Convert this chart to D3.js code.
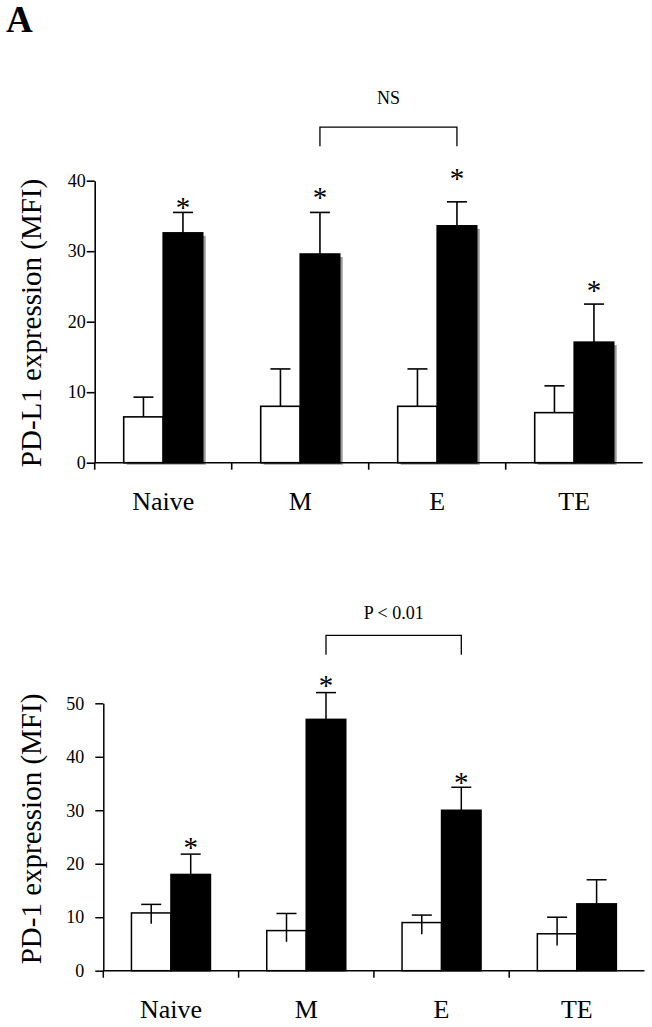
<!DOCTYPE html>
<html>
<head>
<meta charset="utf-8">
<script src="https://cdn.jsdelivr.net/npm/d3@7"></script>
<style>
  html, body { margin: 0; padding: 0; background: #fff; }
  svg { display: block; }
  text { font-family: "Liberation Serif", "Times New Roman", serif; fill: #000; }
</style>
</head>
<body>
<script>
// ---------- data ----------
const categories = ["Naive", "M", "E", "TE"];
const groups = ["open", "filled"];

// Panel 1: PD-L1 expression (MFI)
const pdl1Ticks = [0, 10, 20, 30, 40];
const pdl1Open = [6.5, 8.0, 8.0, 7.1];
const pdl1OpenErr = [2.8, 5.3, 5.3, 3.8];
const pdl1Filled = [32.6, 29.6, 33.6, 17.1];
const pdl1FilledErr = [2.9, 5.9, 3.4, 5.4];
const pdl1Star = [true, true, true, true];
const pdl1StarY = [37.0, 38.4, 41.1, 25.2];

// Panel 2: PD-1 expression (MFI)
const pd1Ticks = [0, 10, 20, 30, 40, 50];
const pd1Open = [10.8, 7.5, 9.0, 6.9];
const pd1OpenErrUp = [1.6, 3.2, 1.4, 3.1];
const pd1OpenErrDown = [2.0, 2.1, 2.2, 2.2];
const pd1Filled = [18.0, 47.0, 30.0, 12.5];
const pd1FilledErr = [3.8, 5.0, 4.3, 4.5];
const pd1Star = [true, true, true, false];
const pd1StarY = [24.1, 54.3, 36.3, 0];

// ---------- drawing ----------
const W = 652, H = 1027;
const svg = d3.select("body").append("svg").attr("width", W).attr("height", H);

svg.append("text").attr("x", 6).attr("y", 32)
  .attr("font-size", 37).attr("font-weight", "bold").text("A");

function panel(opt) {
  const g = svg.append("g");
  const x = d3.scaleBand().domain(categories).range([opt.x0, opt.x1]);
  const sub = d3.scaleBand().domain(groups).range([-opt.barW, opt.barW]);
  const y = d3.scaleLinear().domain([0, opt.ticks[opt.ticks.length - 1]]).range([opt.yBottom, opt.yTop]);

  // shadows (panel 1 only)
  if (opt.shadow) {
    const sh = g.append("g").attr("fill", "#9a9a9a");
    categories.forEach((c, i) => {
      [["open", opt.open[i]], ["filled", opt.filled[i]]].forEach(([k, v]) => {
        sh.append("rect")
          .attr("x", x(c) + x.bandwidth() / 2 + sub(k) + 3)
          .attr("y", y(v) + 3)
          .attr("width", sub.bandwidth())
          .attr("height", y(0) - y(v) - 1);
      });
    });
  }

  // bars
  categories.forEach((c, i) => {
    const cx = x(c) + x.bandwidth() / 2;
    g.append("rect")
      .attr("x", cx + sub("open")).attr("y", y(opt.open[i]))
      .attr("width", sub.bandwidth()).attr("height", y(0) - y(opt.open[i]))
      .attr("fill", "#fff").attr("stroke", "#000").attr("stroke-width", opt.sw);
    g.append("rect")
      .attr("x", cx + sub("filled")).attr("y", y(opt.filled[i]))
      .attr("width", sub.bandwidth()).attr("height", y(0) - y(opt.filled[i]))
      .attr("fill", "#000").attr("stroke", "#000").attr("stroke-width", opt.sw);

    const oc = cx + sub("open") + sub.bandwidth() / 2;
    const fc = cx + sub("filled") + sub.bandwidth() / 2;
    const cap = 10;
    const oTop = opt.open[i] + opt.openErrUp[i];
    const oBot = opt.openErrDown ? opt.open[i] - opt.openErrDown[i] : opt.open[i];
    g.append("line").attr("x1", oc).attr("x2", oc).attr("y1", y(oBot)).attr("y2", y(oTop))
      .attr("stroke", "#000").attr("stroke-width", opt.sw);
    g.append("line").attr("x1", oc - cap).attr("x2", oc + cap).attr("y1", y(oTop)).attr("y2", y(oTop))
      .attr("stroke", "#000").attr("stroke-width", opt.sw);
    const fTop = opt.filled[i] + opt.filledErr[i];
    g.append("line").attr("x1", fc).attr("x2", fc).attr("y1", y(opt.filled[i])).attr("y2", y(fTop))
      .attr("stroke", "#000").attr("stroke-width", opt.sw);
    g.append("line").attr("x1", fc - cap).attr("x2", fc + cap).attr("y1", y(fTop)).attr("y2", y(fTop))
      .attr("stroke", "#000").attr("stroke-width", opt.sw);

    if (opt.star[i]) {
      g.append("text").attr("x", fc).attr("y", y(opt.starY[i]) + 15)
        .attr("text-anchor", "middle").attr("font-size", 29).text("*");
    }
  });

  // y axis
  const ya = g.append("g").attr("transform", `translate(${opt.x0},0)`)
    .call(d3.axisLeft(y).tickValues(opt.ticks).tickSize(8).tickPadding(opt.tickPad).tickSizeOuter(0));
  ya.attr("font-family", null);
  ya.select(".domain").attr("stroke-width", opt.sw);
  ya.selectAll(".tick line").attr("stroke-width", opt.sw);
  ya.selectAll(".tick text").attr("font-size", 18);

  // x axis (boundary ticks)
  const xa = g.append("g");
  xa.append("line").attr("x1", opt.x0).attr("x2", opt.x1).attr("y1", y(0)).attr("y2", y(0))
    .attr("stroke", "#000").attr("stroke-width", opt.sw);
  categories.forEach(c => {
    xa.append("line").attr("x1", x(c)).attr("x2", x(c)).attr("y1", y(0)).attr("y2", y(0) + 7)
      .attr("stroke", "#000").attr("stroke-width", opt.sw);
    xa.append("text").attr("x", x(c) + x.bandwidth() / 2).attr("y", opt.labelY)
      .attr("text-anchor", "middle").attr("font-size", 26).text(c);
  });

  // y label
  g.append("text").attr("transform", `translate(${opt.ylabX},${opt.ylabY}) rotate(-90)`)
    .attr("text-anchor", "middle").attr("font-size", 29).text(opt.ylabel);

  // bracket
  const b0 = x(opt.bracket[0]) + x.bandwidth() / 2 + sub("filled") + sub.bandwidth() / 2;
  const b1 = x(opt.bracket[1]) + x.bandwidth() / 2 + sub("filled") + sub.bandwidth() / 2;
  g.append("path")
    .attr("d", `M${b0},${y(opt.bracketLow)}V${y(opt.bracketY)}H${b1}V${y(opt.bracketLow)}`)
    .attr("fill", "none").attr("stroke", "#000").attr("stroke-width", 1.3);
  g.append("text").attr("x", (b0 + b1) / 2).attr("y", y(opt.bracketTextY))
    .attr("text-anchor", "middle").attr("font-size", 18).text(opt.bracketText);
}

panel({
  x0: 94.7, x1: 642.7, yBottom: 462.7, yTop: 180.7, barW: 39.5, sw: 1.6, tickPad: 1,
  ticks: pdl1Ticks, open: pdl1Open, openErrUp: pdl1OpenErr, openErrDown: null,
  filled: pdl1Filled, filledErr: pdl1FilledErr, star: pdl1Star, starY: pdl1StarY,
  shadow: true, labelY: 510, ylabel: "PD-L1 expression (MFI)", ylabX: 41, ylabY: 323,
  bracket: ["M", "E"], bracketY: 47.6, bracketLow: 44.9, bracketTextY: 50.9, bracketText: "NS"
});

panel({
  x0: 103.3, x1: 644.5, yBottom: 970.7, yTop: 703.3, barW: 39.5, sw: 1.5, tickPad: 11,
  ticks: pd1Ticks, open: pd1Open, openErrUp: pd1OpenErrUp, openErrDown: pd1OpenErrDown,
  filled: pd1Filled, filledErr: pd1FilledErr, star: pd1Star, starY: pd1StarY,
  shadow: false, labelY: 1018, ylabel: "PD-1 expression (MFI)", ylabX: 41, ylabY: 829,
  bracket: ["M", "E"], bracketY: 62.7, bracketLow: 59.1, bracketTextY: 65.8, bracketText: "P < 0.01"
});
</script>
</body>
</html>
